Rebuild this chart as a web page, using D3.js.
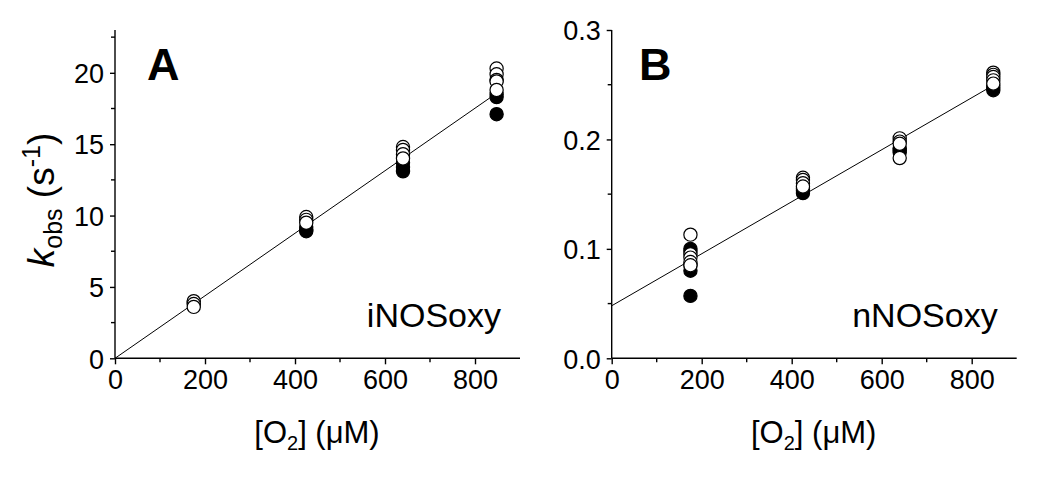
<!DOCTYPE html>
<html>
<head>
<meta charset="utf-8">
<script src="https://cdn.jsdelivr.net/npm/d3@7"></script>
<style>
  html, body { margin: 0; padding: 0; background: #fff; }
  svg { display: block; font-family: Arial, "Liberation Sans", Helvetica, sans-serif; }
</style>
</head>
<body>
<svg id="chart" width="1050" height="477"></svg>
<script>
// ---- data ----
const o2 = [175, 425, 640, 848];
const xTicks = [0, 200, 400, 600, 800];

// Panel A (iNOSoxy)
const iNOSOpen = [[4.0, 3.8, 3.6], [9.9, 9.7, 9.5], [14.8, 14.6, 14.3, 14.0], [20.3, 19.9, 19.5, 19.4, 18.8]];
const iNOSFilled = [[3.9], [9.2, 9.0, 8.9], [13.7, 13.4, 13.1], [18.5, 18.3, 17.1]];
const iNOSFit = [0.0219, 0];          // slope, intercept
const iNOSTicks = [0, 5, 10, 15, 20];

// Panel B (nNOSoxy)
const nNOSOpen = [[0.113, 0.095, 0.092, 0.088, 0.085], [0.165, 0.163, 0.160, 0.157], [0.201, 0.198, 0.196, 0.183], [0.261, 0.259, 0.257, 0.254, 0.251]];
const nNOSFilled = [[0.100, 0.098, 0.085, 0.080, 0.057], [0.155, 0.153, 0.151], [0.192, 0.190, 0.188], [0.249, 0.247, 0.245]];
const nNOSFit = [0.0002376, 0.048];
const nNOSTicks = [0, 0.1, 0.2, 0.3];

const fitRange = [0, 850];

const svg = d3.select("#chart");

function panel(opts) {
  const g = svg.append("g");
  const x = d3.scaleLinear().domain([0, 900]).range([opts.left, opts.left + 405]);
  const y = d3.scaleLinear().domain([0, opts.ymax]).range([358.3, 30]);

  // axes
  const xMinor = d3.range(100, 900, 200);
  const xAxis = d3.axisBottom(x).tickValues(xTicks).tickSize(6).tickPadding(6).tickFormat(d3.format("d"));
  const xAx = g.append("g").attr("transform", "translate(0,358.3)").call(xAxis);
  xAx.select(".domain").attr("d", `M${x(0)},0H${x(900)}`);
  xAx.append("g").selectAll("line").data(xMinor).join("line")
    .attr("x1", d => x(d)).attr("x2", d => x(d)).attr("y1", 0).attr("y2", 4).attr("stroke", "#000").attr("stroke-width", 1.4);

  const yAxis = d3.axisLeft(y).tickValues(opts.yTicks).tickSize(5).tickPadding(6).tickFormat(opts.fmt);
  const yAx = g.append("g").attr("transform", `translate(${opts.left},0)`).call(yAxis);
  yAx.select(".domain").attr("d", `M0,${y(0)}V${y(opts.ymax)}`);
  yAx.append("g").selectAll("line").data(opts.yMinor).join("line")
    .attr("x1", -4).attr("x2", 0).attr("y1", d => y(d)).attr("y2", d => y(d)).attr("stroke", "#000").attr("stroke-width", 1.4);

  [xAx, yAx].forEach(a => {
    a.select(".domain").attr("stroke", "#000").attr("stroke-width", 1.4);
    a.selectAll(".tick line").attr("stroke", "#000").attr("stroke-width", 1.4);
    a.selectAll(".tick text").attr("fill", "#000").style("font-size", "27px").style("font-family", "Arial, 'Liberation Sans', sans-serif");
  });
  yAx.selectAll(".tick text").attr("dy", "0.36em");

  // fit line
  const [m, b] = opts.fit;
  g.append("line")
    .attr("x1", x(fitRange[0])).attr("y1", y(m * fitRange[0] + b))
    .attr("x2", x(fitRange[1])).attr("y2", y(m * fitRange[1] + b))
    .attr("stroke", "#000").attr("stroke-width", 1);

  // points: filled first, open on top
  const filled = [], open = [];
  opts.filled.forEach((arr, i) => arr.forEach(v => filled.push([o2[i], v])));
  opts.open.forEach((arr, i) => arr.forEach(v => open.push([o2[i], v])));
  g.append("g").selectAll("circle").data(filled).join("circle")
    .attr("cx", d => x(d[0])).attr("cy", d => y(d[1])).attr("r", 6.6)
    .attr("fill", "#000").attr("stroke", "#000").attr("stroke-width", 1.2);
  g.append("g").selectAll("circle").data(open).join("circle")
    .attr("cx", d => x(d[0])).attr("cy", d => y(d[1])).attr("r", 6.6)
    .attr("fill", "#fff").attr("stroke", "#000").attr("stroke-width", 1.2);

  // panel letter
  g.append("text").attr("x", opts.letterX).attr("y", 80)
    .style("font-size", "45px").style("font-weight", "bold").text(opts.letter);
  // enzyme name
  g.append("text").attr("x", opts.left + 386).attr("y", 327).attr("text-anchor", "end")
    .style("font-size", "34px").text(opts.name);

  // x label
  const xl = g.append("text").attr("x", opts.left + 202).attr("y", 443).attr("text-anchor", "middle")
    .style("font-size", "31px");
  xl.append("tspan").text("[O");
  xl.append("tspan").attr("dy", 7).style("font-size", "20px").text("2");
  xl.append("tspan").attr("dy", -7).text("] (\u03BCM)");
  return { x, y };
}

panel({ left: 115, ymax: 23, yTicks: iNOSTicks, yMinor: [2.5, 7.5, 12.5, 17.5, 22.5],
  fmt: d3.format("d"), fit: iNOSFit, open: iNOSOpen, filled: iNOSFilled,
  letter: "A", letterX: 147, name: "iNOSoxy" });
panel({ left: 611.7, ymax: 0.3, yTicks: nNOSTicks, yMinor: [0.05, 0.15, 0.25],
  fmt: d3.format(".1f"), fit: nNOSFit, open: nNOSOpen, filled: nNOSFilled,
  letter: "B", letterX: 639, name: "nNOSoxy" });

// y label (panel A)
const yl = svg.append("text").attr("transform", "translate(54,200) rotate(-90)")
  .attr("text-anchor", "middle").style("font-size", "37px");
yl.append("tspan").style("font-style", "italic").text("k");
yl.append("tspan").attr("dy", 8).style("font-size", "25px").text("obs");
yl.append("tspan").attr("dy", -8).text(" (s");
yl.append("tspan").attr("dy", -14).style("font-size", "25px").text("-1");
yl.append("tspan").attr("dy", 14).text(")");
</script>
</body>
</html>
